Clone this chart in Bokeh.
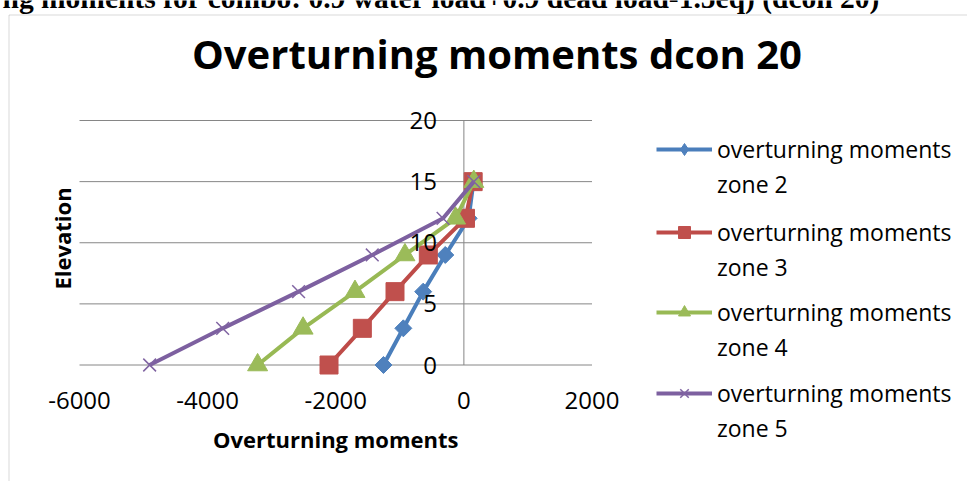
import math
from bokeh.plotting import figure
from bokeh.models import Range1d, Label, Legend, LegendItem, BoxAnnotation
from bokeh.core.properties import value
from bokeh.embed import file_html
from bokeh.resources import INLINE

# ---- data ----
elevation = [0, 3, 6, 9, 12, 15]
zone2 = [-1255, -945, -635, -290, 75, 150]
zone3 = [-2105, -1585, -1075, -555, 25, 145]
zone4 = [-3220, -2510, -1700, -920, -130, 155]
zone5 = [-4905, -3765, -2580, -1430, -325, 155]
x_ticks = [-6000, -4000, -2000, 0, 2000]
x_tick_labels = ["-6000", "-4000", "-2000", "0", "2000"]
y_ticks = [0, 5, 10, 15, 20]
y_tick_labels = ["0", "5", "10", "15", "20"]
series_names = ["overturning moments", "overturning moments",
                "overturning moments", "overturning moments"]
zone_names = ["zone 2", "zone 3", "zone 4", "zone 5"]
chart_title = "Overturning moments dcon 20"
x_title = "Overturning moments"
y_title = "Elevation"
caption = "ng moments for combo: 0.9 water load+0.9 dead load-1.5eq) (dcon 20)"

FONT = "Open Sans"
GRID = "#868686"
W, H = 967, 481

# plot area: x -6000..2000 -> px 79..591.5 ; y 0..20 -> px 364.5..120
xs = 512.5 / 8000.0
ys = 244.5 / 20.0
x0 = -6000 - 79 / xs
x1 = x0 + W / xs
y1 = 364.5 / ys
y0 = y1 - H / ys

p = figure(width=W, height=H,
           x_range=Range1d(x0, x1), y_range=Range1d(y0, y1),
           x_axis_location=None, y_axis_location=None,
           output_backend="svg", toolbar_location=None,
           min_border=0, outline_line_color=None)
p.xgrid.visible = False
p.ygrid.visible = False

# chart-area border (left/top visible)
p.add_layout(BoxAnnotation(left=x0 + 8.5 / xs, top=y1 - 14.5 / ys,
                           right=x1 + 1000, bottom=y0 - 5,
                           fill_alpha=0, line_color="#7f7f7f", line_width=1))

# horizontal gridlines across the value range, and the vertical axis line at x = 0
n = len(y_ticks)
p.segment(x0=[x_ticks[0]] * n, y0=y_ticks, x1=[x_ticks[-1]] * n, y1=y_ticks,
          line_color=GRID, line_width=1)
p.segment(x0=[0], y0=[y_ticks[0]], x1=[0], y1=[y_ticks[-1]],
          line_color=GRID, line_width=1)

colors = ["#4A7EBB", "#BE4B48", "#98B954", "#7D60A0"]
fills = ["#4F81BD", "#C0504D", "#9BBB59", "#8064A2"]
zones = [zone2, zone3, zone4, zone5]
nan = float("nan")

renderers = []
for i, (z, c, f) in enumerate(zip(zones, colors, fills)):
    ln = p.line(z, elevation, line_color=c, line_width=4)
    if i == 0:
        p.scatter(z, elevation, marker="square", angle=math.pi / 4, size=12,
                  fill_color=f, line_color=f)
        mk = p.scatter(x=[nan], y=[nan], marker="diamond", size=20,
                       fill_color=f, line_color=f)
    elif i == 1:
        mk = p.scatter(z, elevation, marker="square", size=18,
                       fill_color=f, line_color=f)
    elif i == 2:
        mk = p.scatter(z, elevation, marker="triangle", size=20,
                       fill_color=f, line_color=f)
    else:
        mk = p.scatter(z, elevation, marker="x", size=18,
                       line_color=f, line_width=1.5)
    renderers.append((ln, mk))

# tick labels
p.text(x=x_ticks, y=[0] * len(x_ticks), text=x_tick_labels,
       text_align="center", text_baseline="alphabetic", y_offset=35.5,
       text_font=value(FONT), text_font_size="24px", text_color="black")
p.text(x=[0] * len(y_ticks), y=y_ticks, text=y_tick_labels,
       text_align="right", text_baseline="alphabetic", x_offset=-27, y_offset=0,
       text_font=value(FONT), text_font_size="24px", text_color="black")

# legends (one per series, second text line with invisible glyph)
leg_y = [281, 198, 118, 37]
for i, (ln, mk) in enumerate(renderers):
    dummy = p.line(x=[], y=[], line_alpha=0)
    leg = Legend(items=[LegendItem(label=series_names[i], renderers=[ln, mk]),
                        LegendItem(label=zone_names[i], renderers=[dummy])],
                 location=(656, leg_y[i]),
                 glyph_width=56, glyph_height=30, label_height=30,
                 label_standoff=5, spacing=3, padding=0, margin=0,
                 border_line_color=None, background_fill_alpha=0,
                 label_text_font=FONT, label_text_font_size="23px",
                 label_text_color="black")
    p.add_layout(leg, "center")

# titles
p.add_layout(Label(x=517, y=y1 - 52.7 / ys, text=chart_title,
                   text_align="center", text_baseline="alphabetic",
                   text_font=FONT, text_font_style="bold",
                   text_font_size="40px", text_color="black"))
p.add_layout(Label(x=-2000, y=y1 - 438.3 / ys, text=x_title,
                   text_align="center", text_baseline="alphabetic",
                   text_font=FONT, text_font_style="bold",
                   text_font_size="22px", text_color="black"))
p.add_layout(Label(x=x0 + 61.7 / xs, y=y1 - 238 / ys, text=y_title, angle=math.pi / 2,
                   text_align="center", text_baseline="middle",
                   text_font=FONT, text_font_style="bold",
                   text_font_size="22px", text_color="black"))
# cropped document caption above the chart
p.add_layout(Label(x=x0 + 880 / xs, y=y1 + 3 / ys, text=caption,
                   text_align="right", text_baseline="alphabetic",
                   text_font="Liberation Serif", text_font_style="bold",
                   text_font_size="29.5px", text_color="black"))

open("out.html", "w").write(file_html(p, INLINE))
